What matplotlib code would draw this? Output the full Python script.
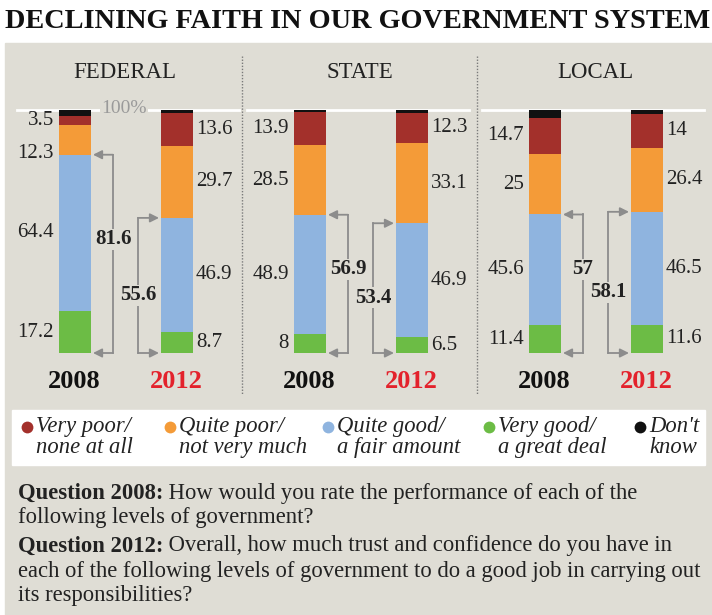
import matplotlib
matplotlib.use('Agg')
import numpy as np
import matplotlib.pyplot as plt
from matplotlib.patches import Rectangle

plt.rcParams['font.family'] = ['Liberation Serif', 'DejaVu Serif']

title = 'DECLINING FAITH IN OUR GOVERNMENT SYSTEM'
levels = ['FEDERAL', 'STATE', 'LOCAL']
years = ['2008', '2012']

# percent of respondents, one entry per bar: fed08, fed12, state08, state12, local08, local12
very_good = [17.2, 8.7, 8.0, 6.5, 11.4, 11.6]
quite_good = [64.4, 46.9, 48.9, 46.9, 45.6, 46.5]
quite_poor = [12.3, 29.7, 28.5, 33.1, 25.0, 26.4]
very_poor = [3.5, 13.6, 13.9, 12.3, 14.7, 14.0]
dont_know = [2.6, 1.1, 0.7, 1.2, 3.3, 1.5]
good_total = [81.6, 55.6, 56.9, 53.4, 57.0, 58.1]

legend_labels = ['Very poor/\nnone at all', 'Quite poor/\nnot very much',
                 'Quite good/\na fair amount', 'Very good/\na great deal', "Don't\nknow"]
# (bold lead-in, rest of line)
question_lines = [
    ('Question 2008:', ' How would you rate the performance of each of the'),
    ('', 'following levels of government?'),
    ('Question 2012:', ' Overall, how much trust and confidence do you have in'),
    ('', 'each of the following levels of government to do a good job in carrying out'),
    ('', 'its responsibilities?'),
]

BG = '#dfddd5'
RED = '#a3302b'
ORANGE = '#f49b38'
BLUE = '#8fb4df'
GREEN = '#6cbc45'
BLACK = '#111111'
GREY = '#8c8c8c'
YEAR_COL = ['#111111', '#e3222c']

W, H = 712, 615
fig = plt.figure(figsize=(W / 100, H / 100), dpi=100)

# background axes in pixel coordinates
ax0 = fig.add_axes([0, 0, 1, 1])
ax0.set_xlim(0, W)
ax0.set_ylim(H, 0)
ax0.axis('off')
ax0.add_patch(Rectangle((5, 43), W - 5, H - 43, color=BG, zorder=0))
ax0.add_patch(Rectangle((12, 410), 693, 55, color='white', zorder=1))

ax0.text(5, 21, title, fontsize=20.3, fontweight='bold', va='center', ha='left', color='#111')

# bars axes: x in pixels, y in percent
bar_top, bar_bot = 110, 353
ax = fig.add_axes([0, (H - bar_bot) / H, 1, (bar_bot - bar_top) / H])
ax.set_xlim(0, W)
ax.set_ylim(0, 100)
ax.axis('off')
ax.patch.set_alpha(0)

n = len(very_good)
idx = np.arange(n)
panel = idx // 2
yr = idx % 2
centers = 75 + 235 * panel + 102 * yr
bw = 32

segments = [very_good, quite_good, quite_poor, very_poor, dont_know]
colors = [GREEN, BLUE, ORANGE, RED, BLACK]
bottom = np.zeros(n)
seg_bottoms = []
for vals, col in zip(segments, colors):
    ax.bar(centers, vals, bw, bottom=bottom, color=col, zorder=3, linewidth=0)
    seg_bottoms.append(bottom.copy())
    bottom = bottom + np.array(vals)

# white 100% guide lines, one per panel
for p in range(3):
    x0 = 17 + 235 * p if p == 0 else 12 + 235 * p
    ax.plot([x0, x0 + 222], [100, 100], color='white', lw=2, zorder=1, clip_on=False)
ax.text(124, 100.8, '100%', color='#9a9a9a', fontsize=14, ha='center', va='center', zorder=2,
        bbox=dict(facecolor=BG, edgecolor='none', pad=0.5))

# value labels (skip "don't know")
for s, vals in enumerate(segments[:4]):
    for i in range(n):
        v = vals[i]
        y = seg_bottoms[s][i] + v / 2
        if i == 0 and s == 2:
            y -= 5.5
        txt = f'{v:g}'
        if yr[i] == 0:
            ax.text(centers[i] - bw / 2 - 5, y, txt, ha='right', va='center', fontsize=15,
                    color='#222', clip_on=False)
        else:
            ax.text(centers[i] + bw / 2 + 3, y, txt, ha='left', va='center', fontsize=15,
                    color='#222', clip_on=False)

# brackets for the "good" total
for i in range(n):
    top = good_total[i]
    if yr[i] == 0:
        edge = centers[i] + bw / 2 + 2
        xv = centers[i] + bw / 2 + 22
        ly = top / 2 + 6
    else:
        edge = centers[i] - bw / 2 - 2
        xv = centers[i] - bw / 2 - 23
        ly = top / 2 - 4
    ax.plot([xv, xv], [top, 0], color=GREY, lw=1.3, zorder=2, clip_on=False)
    for yy in (top, 0):
        ax.annotate('', xy=(edge, yy), xytext=(xv, yy), annotation_clip=False,
                    arrowprops=dict(arrowstyle='-|>', color=GREY, lw=1.3,
                                    mutation_scale=13, shrinkA=0, shrinkB=0), zorder=2)
    ax.text(xv, ly, f'{top:g}', ha='center', va='center', fontsize=15, fontweight='bold',
            color='#222', zorder=4, bbox=dict(facecolor=BG, edgecolor='none', pad=0.3))

# panel headings, dividers and year labels
for p, name in enumerate(levels):
    cx = (centers[2 * p] + centers[2 * p + 1]) / 2
    ax0.text(cx - 1, 73, name, fontsize=16.5, ha='center', va='center', color='#222')
for xd in (242, 477):
    ax0.plot([xd, xd], [56, 395], color='#7a7a7a', lw=1, ls=(0, (1, 1.2)))
for i in range(n):
    ax0.text(centers[i] - 1, 381, years[yr[i]], fontsize=19, fontweight='bold',
             ha='center', va='center', color=YEAR_COL[yr[i]])

# legend
leg_x = [27, 170, 328, 489, 640]
for lx, lab, col in zip(leg_x, legend_labels, [RED, ORANGE, BLUE, GREEN, BLACK]):
    ax0.plot(lx, 427, 'o', ms=8.5, color=col, mec='none')
    ax0.text(lx + 9, 437, lab, fontsize=16.3, style='italic', ha='left', va='center',
             color='#222', linespacing=0.95)

# question notes with bold lead-in
renderer = fig.canvas.get_renderer()
line_y = [493, 518, 546, 571, 596]
for (lead, rest), y in zip(question_lines, line_y):
    xe = 18
    if lead:
        t = ax0.text(18, y, lead, fontsize=16.3, fontweight='bold', ha='left', va='center',
                     color='#222')
        bb = t.get_window_extent(renderer=renderer)
        xe = ax0.transData.inverted().transform((bb.x1, bb.y0))[0]
    ax0.text(xe, y, rest, fontsize=16.3, ha='left', va='center', color='#222')

fig.savefig('out.png', dpi=100)
